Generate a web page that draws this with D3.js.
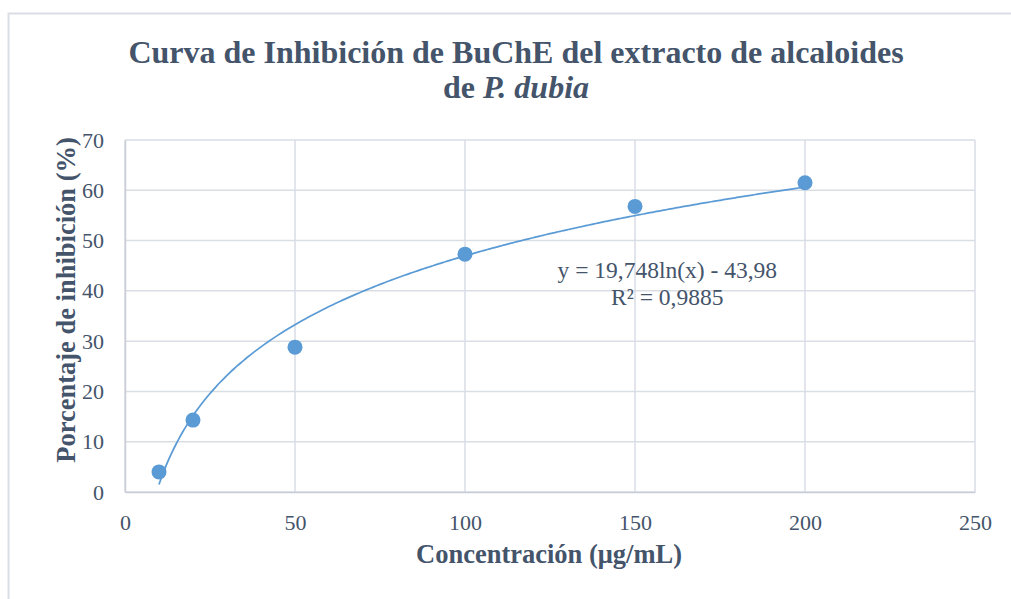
<!DOCTYPE html>
<html>
<head>
<meta charset="utf-8">
<script src="https://cdn.jsdelivr.net/npm/d3@7"></script>
<style>
  body { margin: 0; background: #fff; }
  text { font-family: "Liberation Serif", "Times New Roman", serif; }
</style>
</head>
<body>
<svg id="chart" width="1011" height="599"></svg>
<script>
// data
var concentrations = [10, 20, 50, 100, 150, 200];
var inhibition = [4.0, 14.3, 28.8, 47.3, 56.8, 61.5];
var xTicks = [0, 50, 100, 150, 200, 250];
var yTicks = [0, 10, 20, 30, 40, 50, 60, 70];
// logarithmic trendline given on the chart
var trendA = 19.748, trendB = -43.98;
var trendRange = [10, 200];

var textColor = "#44546a";
var gridColor = "#d9dde4";
var pointColor = "#5b9bd5";

var margin = {top: 140, right: 36, bottom: 107, left: 125},
    width = 975 - margin.left,
    height = 492 - margin.top;

var svg = d3.select("#chart");

// outer chart frame
svg.append("rect")
  .attr("x", 8.5).attr("y", 13.5)
  .attr("width", 1020).attr("height", 600)
  .attr("fill", "none")
  .attr("stroke", gridColor)
  .attr("stroke-width", 2);

var g = svg.append("g")
  .attr("transform", "translate(" + margin.left + "," + margin.top + ")");

var x = d3.scaleLinear().domain([0, 250]).range([0, width]);
var y = d3.scaleLinear().domain([0, 70]).range([height, 0]);

// gridlines
g.selectAll(".hgrid")
  .data(yTicks)
  .enter()
  .append("line")
  .attr("x1", 0).attr("x2", width)
  .attr("y1", function(d) { return y(d); })
  .attr("y2", function(d) { return y(d); })
  .attr("stroke", gridColor)
  .attr("stroke-width", 1.5);

g.selectAll(".vgrid")
  .data(xTicks)
  .enter()
  .append("line")
  .attr("y1", 0).attr("y2", height)
  .attr("x1", function(d) { return x(d); })
  .attr("x2", function(d) { return x(d); })
  .attr("stroke", gridColor)
  .attr("stroke-width", 1.5);

// axes
var xAxis = g.append("g")
  .attr("transform", "translate(0," + height + ")")
  .call(d3.axisBottom(x).tickValues(xTicks).tickSize(0).tickPadding(22));
var yAxis = g.append("g")
  .call(d3.axisLeft(y).tickValues(yTicks).tickSize(0).tickPadding(21));

[xAxis, yAxis].forEach(function(a) {
  a.select(".domain").attr("stroke", "#c9ced6").attr("stroke-width", 1.5);
  a.selectAll("text")
    .attr("fill", textColor)
    .style("font-family", "'Liberation Serif', serif")
    .style("font-size", "22px");
});

// trendline
var trendData = d3.range(trendRange[0], trendRange[1] + 0.5, 1);
var line = d3.line()
  .x(function(d) { return x(d); })
  .y(function(d) { return y(trendA * Math.log(d) + trendB); })
  .curve(d3.curveMonotoneX);

g.append("path")
  .datum(trendData)
  .attr("d", line)
  .attr("fill", "none")
  .attr("stroke", pointColor)
  .attr("stroke-width", 1.75);

// points
g.selectAll(".dot")
  .data(concentrations)
  .enter()
  .append("circle")
  .attr("cx", function(d) { return x(d); })
  .attr("cy", function(d, i) { return y(inhibition[i]); })
  .attr("r", 7.5)
  .attr("fill", pointColor);

// equation
g.append("text")
  .attr("x", x(159.5)).attr("y", y(42.6))
  .attr("text-anchor", "middle")
  .attr("fill", textColor)
  .style("font-size", "23.5px")
  .text("y = 19,748ln(x) - 43,98");
g.append("text")
  .attr("x", x(159.5)).attr("y", y(37.2))
  .attr("text-anchor", "middle")
  .attr("fill", textColor)
  .style("font-size", "23.5px")
  .text("R² = 0,9885");

// title
var title = svg.append("text")
  .attr("x", 516).attr("text-anchor", "middle")
  .attr("fill", textColor)
  .attr("font-weight", "bold")
  .style("font-size", "32px");
title.append("tspan").attr("x", 516).attr("y", 63)
  .text("Curva de Inhibición de BuChE del extracto de alcaloides");
var t2 = title.append("tspan").attr("x", 516).attr("y", 98);
t2.append("tspan").text("de ");
t2.append("tspan").attr("font-style", "italic").text("P. dubia");

// axis titles
svg.append("text")
  .attr("x", 549).attr("y", 563)
  .attr("text-anchor", "middle")
  .attr("fill", textColor)
  .attr("font-weight", "bold")
  .style("font-size", "26.5px")
  .text("Concentración (μg/mL)");

svg.append("text")
  .attr("transform", "rotate(-90)")
  .attr("x", -300).attr("y", 75)
  .attr("text-anchor", "middle")
  .attr("fill", textColor)
  .attr("font-weight", "bold")
  .style("font-size", "26.5px")
  .text("Porcentaje de inhibición (%)");
</script>
</body>
</html>
